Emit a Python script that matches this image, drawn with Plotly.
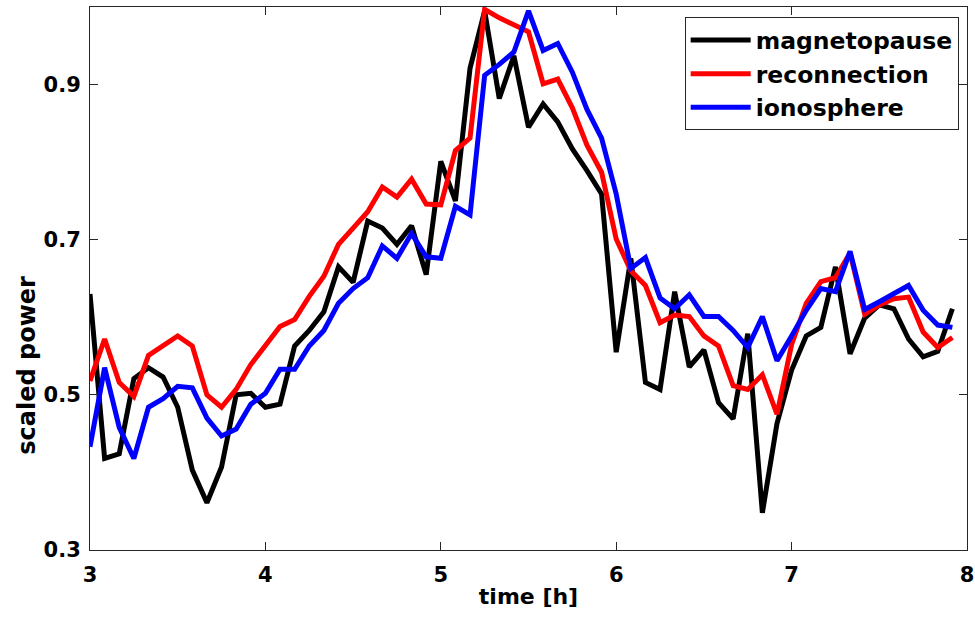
import numpy as np
import plotly.graph_objects as go

# sample times: 5-minute cadence from 3 h
time_h = 3 + np.arange(60) / 12.0

magnetopause = [0.630, 0.418, 0.424, 0.521, 0.535, 0.523, 0.484, 0.403, 0.361, 0.407,
                0.500, 0.502, 0.484, 0.488, 0.563, 0.583, 0.607, 0.665, 0.645, 0.724,
                0.715, 0.694, 0.718, 0.655, 0.801, 0.750, 0.921, 0.995, 0.882, 0.937,
                0.845, 0.875, 0.852, 0.817, 0.789, 0.759, 0.555, 0.676, 0.516, 0.507,
                0.633, 0.536, 0.558, 0.490, 0.469, 0.579, 0.348, 0.463, 0.532, 0.576,
                0.587, 0.665, 0.553, 0.599, 0.616, 0.611, 0.572, 0.549, 0.556, 0.611]

reconnection = [0.518, 0.572, 0.516, 0.498, 0.551, 0.563, 0.576, 0.563, 0.500, 0.484,
                0.507, 0.539, 0.563, 0.588, 0.597, 0.627, 0.653, 0.694, 0.715, 0.736,
                0.768, 0.755, 0.778, 0.746, 0.745, 0.815, 0.831, 0.997, 0.986, 0.977,
                0.968, 0.901, 0.907, 0.870, 0.822, 0.787, 0.701, 0.660, 0.641, 0.593,
                0.603, 0.601, 0.576, 0.563, 0.512, 0.507, 0.526, 0.475, 0.565, 0.618,
                0.646, 0.651, 0.683, 0.604, 0.616, 0.624, 0.626, 0.581, 0.561, 0.574]

ionosphere = [0.433, 0.535, 0.458, 0.418, 0.484, 0.495, 0.511, 0.509, 0.470, 0.447,
              0.456, 0.488, 0.502, 0.533, 0.533, 0.563, 0.583, 0.618, 0.637, 0.651,
              0.692, 0.676, 0.708, 0.678, 0.676, 0.743, 0.732, 0.912, 0.926, 0.942,
              0.995, 0.944, 0.953, 0.916, 0.868, 0.831, 0.759, 0.663, 0.677, 0.625,
              0.611, 0.629, 0.601, 0.601, 0.583, 0.561, 0.601, 0.544, 0.576, 0.609,
              0.637, 0.633, 0.685, 0.610, 0.620, 0.630, 0.641, 0.609, 0.590, 0.587]

series_names = ["magnetopause", "reconnection", "ionosphere"]
series_colors = ["#000000", "#ff0000", "#0000ff"]
x_ticks = [3, 4, 5, 6, 7, 8]
y_ticks = [0.3, 0.5, 0.7, 0.9]
y_tick_labels = ["0.3", "0.5", "0.7", "0.9"]

FONT = "DejaVu Sans"

fig = go.Figure()
for name, vals, col in zip(series_names, [magnetopause, reconnection, ionosphere], series_colors):
    fig.add_trace(go.Scatter(x=time_h, y=vals, mode="lines", name=name,
                             line=dict(color=col, width=5)))

axis_common = dict(showline=True, linecolor="#262626", linewidth=1, mirror="ticks",
                   ticks="inside", ticklen=8, tickcolor="#262626", tickwidth=1,
                   showgrid=False, zeroline=False, ticklabeloverflow="allow",
                   automargin=False,
                   tickfont=dict(family=FONT, size=21, color="#000000", weight="bold"))

fig.update_xaxes(range=[3, 8], tickvals=x_ticks, ticklabelstandoff=6,
                 title=dict(text="time [h]", standoff=2,
                            font=dict(family=FONT, size=22, color="#000000", weight="bold")),
                 **axis_common)
fig.update_yaxes(range=[0.3, 1.0], tickvals=y_ticks, ticktext=y_tick_labels,
                 ticklabelstandoff=4, **axis_common)

fig.add_annotation(text="scaled power", xref="paper", yref="paper",
                   x=-0.0714, y=0.34, xanchor="center", yanchor="middle",
                   textangle=-90, showarrow=False,
                   font=dict(family=FONT, size=24, color="#000000", weight="bold"))

fig.update_layout(
    width=975, height=618,
    margin=dict(l=90, r=8, t=7, b=68),
    paper_bgcolor="white", plot_bgcolor="white",
    showlegend=True,
    legend=dict(x=0.9905, y=0.981, xanchor="right", yanchor="top",
                bgcolor="white", bordercolor="#262626", borderwidth=1,
                itemwidth=60, entrywidth=275, entrywidthmode="pixels",
                font=dict(family=FONT, size=23.5, color="#000000", weight="bold")),
)

fig.write_html("out.html")
